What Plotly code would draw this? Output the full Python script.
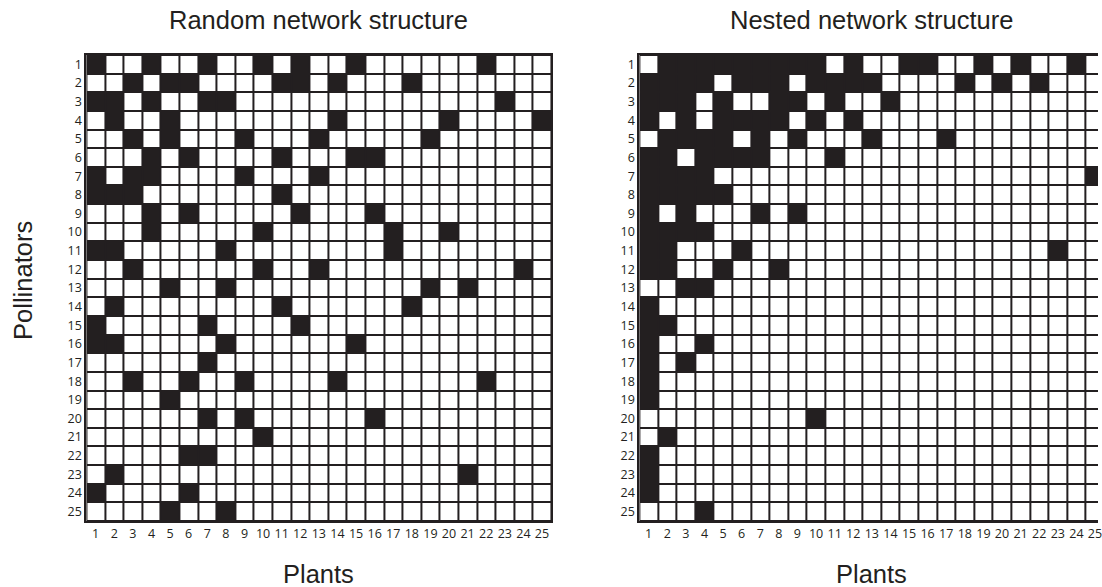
import plotly.graph_objects as go

N = 25
plants = list(range(1, N + 1))
pollinators = list(range(1, N + 1))
tick_text = [str(i) for i in range(1, N + 1)]

# Plants visited by each pollinator (row 1 .. row 25), random structure
random_links = [
    [1, 4, 7, 10, 12, 15, 22],
    [3, 5, 6, 11, 12, 14, 18],
    [1, 2, 4, 7, 8, 23],
    [2, 5, 14, 20, 25],
    [3, 5, 9, 13, 19],
    [4, 6, 11, 15, 16],
    [1, 3, 4, 9, 13],
    [1, 2, 3, 11],
    [4, 6, 12, 16],
    [4, 10, 17, 20],
    [1, 2, 8, 17],
    [3, 10, 13, 24],
    [5, 8, 19, 21],
    [2, 11, 18],
    [1, 7, 12],
    [1, 2, 8, 15],
    [7],
    [3, 6, 9, 14, 22],
    [5],
    [7, 9, 16],
    [10],
    [6, 7],
    [2, 21],
    [1, 6],
    [5, 8],
]

# Plants visited by each pollinator (row 1 .. row 25), nested structure
nested_links = [
    [2, 3, 4, 5, 6, 7, 8, 9, 10, 12, 15, 16, 19, 21, 24],
    [1, 2, 3, 4, 6, 7, 8, 10, 11, 12, 13, 18, 20, 22],
    [1, 2, 3, 5, 8, 9, 11, 14],
    [1, 3, 5, 6, 7, 8, 10, 12],
    [2, 3, 4, 5, 7, 9, 13, 17],
    [1, 2, 4, 5, 6, 7, 11],
    [1, 2, 3, 4, 25],
    [1, 2, 3, 4, 5],
    [1, 3, 7, 9],
    [1, 2, 3, 4],
    [1, 2, 6, 23],
    [1, 2, 5, 8],
    [3, 4],
    [1],
    [1, 2],
    [1, 4],
    [1, 3],
    [1],
    [1],
    [10],
    [2],
    [1],
    [1],
    [1],
    [4],
]


def incidence(links):
    z = [[0] * N for _ in range(N)]
    for r, cols in enumerate(links):
        for c in cols:
            z[r][c - 1] = 1
    return z


INK = "#231f20"
W, H = 1102, 587
CELL = 18.664
TOP, BOTTOM = 55.0, 521.0
LEFT1, LEFT2 = 86.7, 641.7

fig = go.Figure()
for z, xa, ya in [(incidence(random_links), "x", "y"), (incidence(nested_links), "x2", "y2")]:
    fig.add_trace(go.Heatmap(
        z=z, x=plants, y=pollinators,
        colorscale=[[0, "#ffffff"], [1, INK]], zmin=0, zmax=1,
        showscale=False, xgap=2, ygap=2, hoverinfo="skip",
        xaxis=xa, yaxis=ya,
    ))

tick_font = dict(family="Open Sans, Noto Sans, sans-serif", size=12.5, color=INK)
ydom = [1 - BOTTOM / H, 1 - TOP / H]

common_x = dict(tickmode="array", tickvals=plants, ticktext=tick_text, tickfont=tick_font,
                showgrid=False, zeroline=False, showline=True, linecolor=INK, linewidth=2,
                mirror=True, ticks="", fixedrange=True, ticklabeloverflow="allow")
common_y = dict(tickmode="array", tickvals=pollinators, ticktext=tick_text, tickfont=tick_font,
                showgrid=False, zeroline=False, showline=True, linecolor=INK, linewidth=2,
                ticks="", autorange=False, range=[N + 0.5, 0.5], fixedrange=True)

# the right-hand grid runs off the page edge, so only part of column 25 shows
right_span = (W - LEFT2) / CELL

fig.update_layout(
    width=W, height=H,
    margin=dict(l=0, r=0, t=0, b=0),
    paper_bgcolor="#ffffff", plot_bgcolor=INK,
    showlegend=False,
    xaxis=dict(common_x, domain=[LEFT1 / W, (LEFT1 + N * CELL) / W], range=[0.5, N + 0.5], anchor="y"),
    yaxis=dict(common_y, domain=ydom, anchor="x", mirror=True),
    xaxis2=dict(common_x, domain=[LEFT2 / W, 1.0], range=[0.5, 0.5 + right_span], anchor="y2"),
    yaxis2=dict(common_y, domain=ydom, anchor="x2", mirror=False),
)

title_font = dict(family="Liberation Sans, Arial, sans-serif", size=25.5, color=INK)
c1 = (LEFT1 + N * CELL / 2) / W
c2 = (LEFT2 + N * CELL / 2) / W
annos = [
    dict(text="Random network structure", x=c1, y=1 - 20 / H),
    dict(text="Nested network structure", x=c2, y=1 - 20 / H),
    dict(text="Plants", x=c1, y=1 - 574 / H),
    dict(text="Plants", x=c2, y=1 - 574 / H),
    dict(text="Pollinators", x=23 / W, y=1 - 280 / H, textangle=-90),
]
for a in annos:
    fig.add_annotation(xref="paper", yref="paper", showarrow=False,
                       xanchor="center", yanchor="middle", font=title_font, **a)

fig.write_html("out.html")
